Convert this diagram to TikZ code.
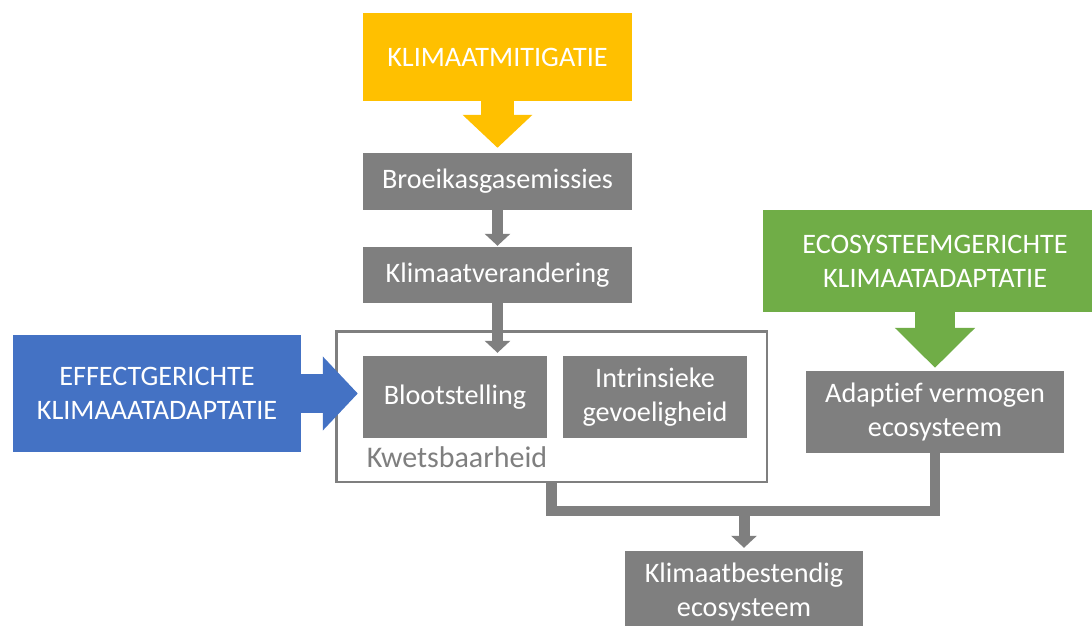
\documentclass[tikz,border=0pt]{standalone}
\usepackage{fontspec}
\setmainfont{Carlito}[Ligatures=NoCommon]
\usetikzlibrary{arrows.meta}
\definecolor{cgray}{HTML}{7F7F7F}
\definecolor{cyellow}{HTML}{FFC000}
\definecolor{cblue}{HTML}{4472C4}
\definecolor{cgreen}{HTML}{70AD47}
\begin{document}
\begin{tikzpicture}[x=1pt,y=-1pt,
  txt/.style={font=\fontsize{28.2}{34}\selectfont},
  box/.style={txt, fill=cgray, text=white, inner sep=0pt, align=center},
  hbox/.style={txt, text=white, inner sep=0pt, align=center},
  garrow/.style={draw=cgray, line width=11pt, -{Triangle[width=25pt,length=12pt]}},
  gline/.style={draw=cgray, line width=10.5pt, line join=miter},
  yarrow/.style={draw=cyellow, line width=33pt, -{Triangle[width=68pt,length=33pt]}},
  barrow/.style={draw=cblue, line width=39pt, -{Triangle[width=72pt,length=35pt]}},
  grarrow/.style={draw=cgreen, line width=40pt, -{Triangle[width=78pt,length=40pt]}}
]
\clip (0,0) rectangle (1092,626);
\fill[white] (0,0) rectangle (1092,626);

% headers
\node[hbox, fill=cyellow, minimum width=269pt, minimum height=88pt] (mit) at (497.5,57) {KLIMAATMITIGATIE};
\node[hbox, fill=cblue, minimum width=288pt, minimum height=117pt] (eff) at (157,393.5) {EFFECTGERICHTE\\KLIMAAATADAPTATIE};
\node[hbox, fill=cgreen, minimum width=344pt, minimum height=102pt] (eco) at (935,261) {ECOSYSTEEMGERICHTE\\KLIMAATADAPTATIE};

% vulnerability frame
\node[draw=cgray, line width=2.5pt, minimum width=430.5pt, minimum height=150.5pt, inner sep=0pt] (kw) at (551.5,406.5) {};
\node[font=\fontsize{30}{36}\selectfont, text=cgray, anchor=base, inner sep=0pt] (kwl) at (457,467) {Kwetsbaarheid};

% gray boxes
\node[box, minimum width=269pt, minimum height=57pt] (broe) at (497.5,181.5) {Broeikasgasemissies};
\node[box, minimum width=269pt, minimum height=56pt] (klim) at (497.5,275) {Klimaatverandering};
\node[box, minimum width=184pt, minimum height=82pt] (bloot) at (455,397) {Blootstelling};
\node[box, minimum width=184pt, minimum height=82pt] (intr) at (655,397) {Intrinsieke\\gevoeligheid};
\node[box, minimum width=258pt, minimum height=82pt] (adapt) at (935,412) {Adaptief vermogen\\ecosysteem};
\node[box, minimum width=238pt, minimum height=82pt] (kb) at (744,592) {Klimaatbestendig\\ecosysteem};

% connectors
\coordinate (j) at (744,511);
\draw[gline] (kw.south) |- (j) -| (adapt.south);
\draw[garrow, shorten >=3pt] (j) -- (kb.north);
\draw[garrow, shorten >=1pt] (broe.south) -- (klim.north);
\draw[garrow, shorten >=3pt] (klim.south) -- (klim.south |- bloot.north);

% block arrows
\draw[yarrow, shorten >=5pt] (mit.south) -- (broe.north);
\draw[barrow, shorten >=5pt] (eff.east) -- (eff.east -| bloot.west);
\draw[grarrow, shorten >=3pt] (eco.south -| adapt.north) -- (adapt.north);
\end{tikzpicture}
\end{document}
